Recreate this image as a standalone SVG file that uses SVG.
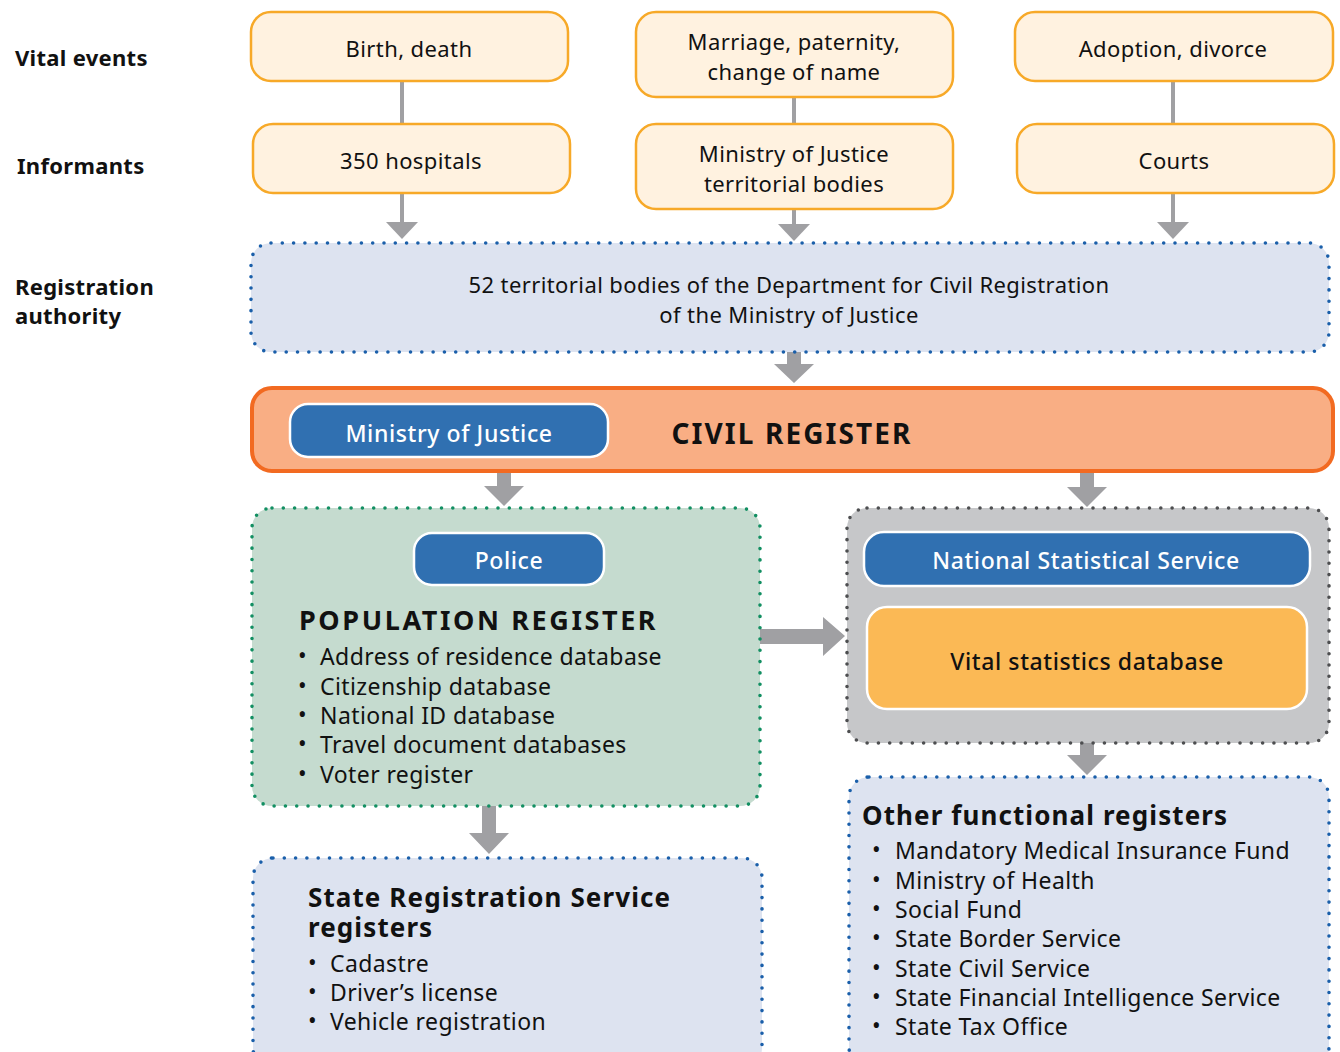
<svg xmlns="http://www.w3.org/2000/svg" width="1340" height="1052" viewBox="0 0 1340 1052">
<defs>
<style>
text{font-family:"Noto Sans","Open Sans","DejaVu Sans",sans-serif;fill:#111;}
.lbl{font-size:22px;font-weight:bold;letter-spacing:0.3px;}
.t{font-size:22px;text-anchor:middle;letter-spacing:0.4px;}
.p{font-size:23px;font-weight:500;text-anchor:middle;letter-spacing:0.6px;}
.w{fill:#fff;}
.ev{fill:#FFF2E0;stroke:#F7A928;stroke-width:2.5;}
.dotb{fill:#DDE3F0;stroke:#1A5FAA;stroke-width:3.6;stroke-dasharray:0 11.3;stroke-linecap:round;}
.dotg{fill:#C5DBCF;stroke:#128F62;stroke-width:3.6;stroke-dasharray:0 11.3;stroke-linecap:round;}
.dotk{fill:#C6C7C9;stroke:#4D4E50;stroke-width:3.6;stroke-dasharray:0 11.3;stroke-linecap:round;}
.pill{fill:#3070B1;stroke:#fff;stroke-width:2.5;}
.ln{stroke:#A0A0A3;stroke-width:4;fill:none;}
.ar{fill:#A0A0A3;}
.h{font-size:26px;font-weight:bold;letter-spacing:1.1px;}
.it{font-size:23px;letter-spacing:0.4px;}
</style>
</defs>

<g id="row-labels">
<text class="lbl" x="15" y="66">Vital events</text>
<text class="lbl" x="17" y="174">Informants</text>
<text class="lbl" x="15" y="295">Registration</text>
<text class="lbl" x="15" y="324">authority</text>
</g>

<g id="connectors">
<line class="ln" x1="402" y1="81" x2="402" y2="124"/>
<line class="ln" x1="794" y1="97" x2="794" y2="124"/>
<line class="ln" x1="1173" y1="81" x2="1173" y2="124"/>
<line class="ln" x1="402" y1="193" x2="402" y2="224"/>
<polygon class="ar" points="386,222 418,222 402,239"/>
<line class="ln" x1="794" y1="209" x2="794" y2="226"/>
<polygon class="ar" points="778,224 810,224 794,241"/>
<line class="ln" x1="1173" y1="193" x2="1173" y2="224"/>
<polygon class="ar" points="1157,222 1189,222 1173,239"/>
<polygon class="ar" points="787,352 801,352 801,364 814,364 794,383 774,364 787,364"/>
<polygon class="ar" points="497,471 511,471 511,486 524,486 504,506 484,486 497,486"/>
<polygon class="ar" points="1080,471 1094,471 1094,487 1107,487 1087,507 1067,487 1080,487"/>
<polygon class="ar" points="760,629 823,629 823,617 845,636 823,656 823,644 760,644"/>
<polygon class="ar" points="1080,743 1094,743 1094,755 1107,755 1087,775 1067,755 1080,755"/>
<polygon class="ar" points="482,806 496,806 496,833 509,833 489,854 469,833 482,833"/>
</g>

<g id="birth-death">
<rect class="ev" x="251" y="12" width="317" height="69" rx="20"/>
<text class="t" x="409" y="57">Birth, death</text>
</g>
<g id="marriage">
<rect class="ev" x="636" y="12" width="317" height="85" rx="20"/>
<text class="t" x="794" y="50">Marriage, paternity,</text>
<text class="t" x="794" y="80">change of name</text>
</g>
<g id="adoption">
<rect class="ev" x="1015" y="12" width="318" height="69" rx="20"/>
<text class="t" x="1173" y="57">Adoption, divorce</text>
</g>
<g id="hospitals">
<rect class="ev" x="253" y="124" width="317" height="69" rx="20"/>
<text class="t" x="411" y="169">350 hospitals</text>
</g>
<g id="moj-territorial">
<rect class="ev" x="636" y="124" width="317" height="85" rx="20"/>
<text class="t" x="794" y="162">Ministry of Justice</text>
<text class="t" x="794" y="192">territorial bodies</text>
</g>
<g id="courts">
<rect class="ev" x="1017" y="124" width="317" height="69" rx="20"/>
<text class="t" x="1174" y="169">Courts</text>
</g>

<g id="registration-authority">
<rect class="dotb" x="251" y="243" width="1078" height="109" rx="20"/>
<text class="t" x="789" y="293">52 territorial bodies of the Department for Civil Registration</text>
<text class="t" x="789" y="323">of the Ministry of Justice</text>
</g>

<g id="civil-register">
<rect x="252" y="388" width="1081" height="83" rx="20" fill="#F9AE84" stroke="#F26A21" stroke-width="4"/>
<rect class="pill" x="290" y="404" width="318" height="53" rx="18"/>
<text class="p w" x="449" y="442">Ministry of Justice</text>
<text x="792" y="444" style="font-size:28px;font-weight:bold;text-anchor:middle;letter-spacing:2.1px">CIVIL REGISTER</text>
</g>

<g id="population-register">
<rect class="dotg" x="252" y="508" width="508" height="298" rx="20"/>
<rect class="pill" x="414" y="533" width="190" height="52" rx="18"/>
<text class="p w" x="509" y="569">Police</text>
<text x="299" y="630" style="font-size:27px;font-weight:bold;letter-spacing:2.6px">POPULATION REGISTER</text>
<g class="it">
<text x="298" y="664">•</text><text x="320" y="665">Address of residence database</text>
<text x="298" y="694">•</text><text x="320" y="695">Citizenship database</text>
<text x="298" y="723">•</text><text x="320" y="724">National ID database</text>
<text x="298" y="752">•</text><text x="320" y="753">Travel document databases</text>
<text x="298" y="782">•</text><text x="320" y="783">Voter register</text>
</g>
</g>

<g id="national-statistical-service">
<rect class="dotk" x="847" y="508" width="482" height="235" rx="20"/>
<rect class="pill" x="864" y="532" width="446" height="54" rx="20"/>
<text class="p w" x="1086" y="569">National Statistical Service</text>
<rect x="867" y="607" width="440" height="102" rx="20" fill="#FBB955" stroke="#fff" stroke-width="2.5"/>
<text class="p" x="1087" y="670">Vital statistics database</text>
</g>

<g id="state-registration-service">
<rect class="dotb" x="253" y="858" width="509" height="210" rx="20"/>
<text class="h" x="308" y="907">State Registration Service</text>
<text class="h" x="308" y="937">registers</text>
<g class="it">
<text x="308" y="971">•</text><text x="330" y="972">Cadastre</text>
<text x="308" y="1000">•</text><text x="330" y="1001">Driver’s license</text>
<text x="308" y="1029">•</text><text x="330" y="1030">Vehicle registration</text>
</g>
</g>

<g id="other-functional-registers">
<rect class="dotb" x="849" y="777" width="480" height="290" rx="20"/>
<text class="h" x="862" y="825">Other functional registers</text>
<g class="it">
<text x="872" y="858">•</text><text x="895" y="859">Mandatory Medical Insurance Fund</text>
<text x="872" y="888">•</text><text x="895" y="889">Ministry of Health</text>
<text x="872" y="917">•</text><text x="895" y="918">Social Fund</text>
<text x="872" y="946">•</text><text x="895" y="947">State Border Service</text>
<text x="872" y="976">•</text><text x="895" y="977">State Civil Service</text>
<text x="872" y="1005">•</text><text x="895" y="1006">State Financial Intelligence Service</text>
<text x="872" y="1034">•</text><text x="895" y="1035">State Tax Office</text>
</g>
</g>
</svg>
